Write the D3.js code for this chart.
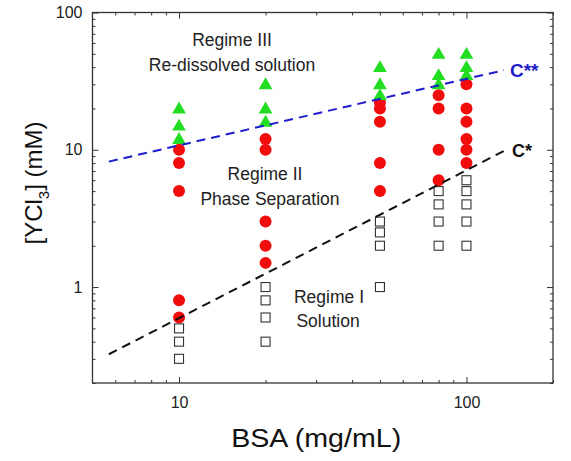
<!DOCTYPE html>
<html>
<head>
<meta charset="utf-8">
<style>
  body { margin: 0; background: #fff; }
  svg text { font-family: "Liberation Sans", Arial, sans-serif; }
</style>
</head>
<body>
<div id="chart"></div>
<script src="https://d3js.org/d3.v7.min.js"></script>
<script>
  // BSA concentrations (mg/mL) and YCl3 concentrations (mM) for each regime
  const solutionX = [10, 10, 10, 20, 20, 20, 20, 50, 50, 50, 50, 80, 80, 80, 80, 100, 100, 100, 100, 100];
  const solutionY = [0.5, 0.4, 0.3, 1.0, 0.8, 0.6, 0.4, 3, 2.5, 2, 1, 5, 4, 3, 2, 6, 5, 4, 3, 2];

  const phaseX = [10, 10, 10, 10, 10, 20, 20, 20, 20, 20, 50, 50, 50, 50, 50, 80, 80, 80, 80, 100, 100, 100, 100, 100, 100];
  const phaseY = [10, 8, 5, 0.8, 0.6, 12, 10, 3, 2, 1.5, 22, 20, 16, 8, 5, 25, 20, 10, 6, 30, 20, 16, 12, 10, 8];

  const redissolvedX = [10, 10, 10, 20, 20, 20, 50, 50, 50, 80, 80, 80, 100, 100, 100];
  const redissolvedY = [20, 15, 12, 30, 20, 16, 40, 30, 25, 50, 35, 30, 50, 40, 35];

  // boundary lines: end points
  const cStarX = [5.7, 135];
  const cStarY = [0.324, 9.8];
  const cStar2X = [5.7, 135];
  const cStar2Y = [8.2, 38];

  const xTicks = [10, 100];
  const yTicks = [1, 10, 100];

  const W = 571, H = 461;
  const margin = { top: 12.5, right: 18, bottom: 78, left: 92.5 };
  const width = W - margin.left - margin.right;
  const height = H - margin.top - margin.bottom;

  const svg = d3.select("#chart").append("svg")
    .attr("width", W)
    .attr("height", H);

  const g = svg.append("g")
    .attr("transform", "translate(" + margin.left + "," + margin.top + ")");

  const x = d3.scaleLog().domain([5, 200]).range([0, width]);
  const y = d3.scaleLog().domain([0.2, 100]).range([height, 0]);

  const minorX = [6, 7, 8, 9, 20, 30, 40, 50, 60, 70, 80, 90, 200];
  const minorY = [0.2, 0.3, 0.4, 0.5, 0.6, 0.7, 0.8, 0.9, 2, 3, 4, 5, 6, 7, 8, 9, 20, 30, 40, 50, 60, 70, 80, 90];

  const axisColor = "#333";

  // inward ticks on all four sides
  function ticks(axisFn, scale, major, minor, transform, labels, pad) {
    const a = g.append("g").attr("transform", transform);
    a.call(axisFn(scale).tickValues(minor).tickSize(-3).tickFormat(""));
    a.call(g2 => g2.select(".domain").remove());
    const b = g.append("g").attr("transform", transform);
    b.call(axisFn(scale).tickValues(major).tickSize(-6).tickPadding(pad)
      .tickFormat(labels ? d3.format("") : ""));
    b.call(g2 => g2.select(".domain").remove());
    a.selectAll("line").attr("stroke", axisColor);
    b.selectAll("line").attr("stroke", axisColor);
    b.selectAll("text").attr("fill", "#222").style("font-size", "16px");
  }

  ticks(d3.axisBottom, x, xTicks, minorX, "translate(0," + height + ")", true, 14);
  ticks(d3.axisTop, x, xTicks, minorX, "translate(0,0)", false, 3);
  ticks(d3.axisLeft, y, yTicks, minorY, "translate(0,0)", true, 10);
  ticks(d3.axisRight, y, yTicks, minorY, "translate(" + width + ",0)", false, 3);

  // frame
  g.append("rect")
    .attr("width", width)
    .attr("height", height)
    .attr("fill", "none")
    .attr("stroke", axisColor)
    .attr("stroke-width", 1.3);

  // regime I: open squares
  g.selectAll(".sq")
    .data(solutionX.map((d, i) => [d, solutionY[i]]))
    .enter().append("rect")
    .attr("x", d => x(d[0]) - 4.5)
    .attr("y", d => y(d[1]) - 4.5)
    .attr("width", 9)
    .attr("height", 9)
    .attr("fill", "#fff")
    .attr("stroke", "#333")
    .attr("stroke-width", 1.1);

  // regime II: red circles
  g.selectAll(".dot")
    .data(phaseX.map((d, i) => [d, phaseY[i]]))
    .enter().append("circle")
    .attr("cx", d => x(d[0]))
    .attr("cy", d => y(d[1]))
    .attr("r", 6)
    .attr("fill", "#f20d0d");

  // regime III: green triangles
  const tri = d3.symbol().type(d3.symbolTriangle).size(82);
  g.selectAll(".tri")
    .data(redissolvedX.map((d, i) => [d, redissolvedY[i]]))
    .enter().append("path")
    .attr("d", tri)
    .attr("transform", d => "translate(" + x(d[0]) + "," + (y(d[1]) + 1) + ")")
    .attr("fill", "#22dd22");

  const line = d3.line().x(d => x(d[0])).y(d => y(d[1]));

  g.append("path")
    .datum(cStar2X.map((d, i) => [d, cStar2Y[i]]))
    .attr("d", line)
    .attr("fill", "none")
    .attr("stroke", "#1d1dcc")
    .attr("stroke-width", 2)
    .attr("stroke-dasharray", "9,6");

  g.append("path")
    .datum(cStarX.map((d, i) => [d, cStarY[i]]))
    .attr("d", line)
    .attr("fill", "none")
    .attr("stroke", "#111")
    .attr("stroke-width", 2)
    .attr("stroke-dasharray", "9,6");

  g.append("text")
    .attr("x", x(cStar2X[1]) + 6)
    .attr("y", y(cStar2Y[1]) + 7)
    .attr("fill", "#1d1dcc")
    .style("font-size", "19px")
    .style("font-weight", "bold")
    .text("C**");

  g.append("text")
    .attr("x", x(cStarX[1]) + 8)
    .attr("y", y(cStarY[1]) + 6)
    .attr("fill", "#111")
    .style("font-size", "18px")
    .style("font-weight", "bold")
    .text("C*");

  // regime annotations
  const notes = [
    ["Regime III", 232, 46],
    ["Re-dissolved solution", 232, 71],
    ["Regime II", 265, 180],
    ["Phase Separation", 270, 205],
    ["Regime I", 329, 303],
    ["Solution", 328, 327]
  ];
  svg.selectAll(".note")
    .data(notes)
    .enter().append("text")
    .attr("x", d => d[1])
    .attr("y", d => d[2])
    .attr("text-anchor", "middle")
    .attr("fill", "#222")
    .style("font-size", "17.5px")
    .text(d => d[0]);

  svg.append("text")
    .attr("transform", "translate(" + (margin.left + x(30)) + ",447) scale(1.1,1)")
    .attr("text-anchor", "middle")
    .attr("fill", "#111")
    .style("font-size", "26px")
    .text("BSA (mg/mL)");

  const yl = svg.append("text")
    .attr("transform", "translate(42,183) rotate(-90)")
    .attr("text-anchor", "middle")
    .attr("fill", "#111")
    .style("font-size", "24px");
  yl.append("tspan").text("[YCl");
  yl.append("tspan").attr("dy", 7).style("font-size", "15px").text("3");
  yl.append("tspan").attr("dy", -7).text("] (mM)");
</script>
</body>
</html>
